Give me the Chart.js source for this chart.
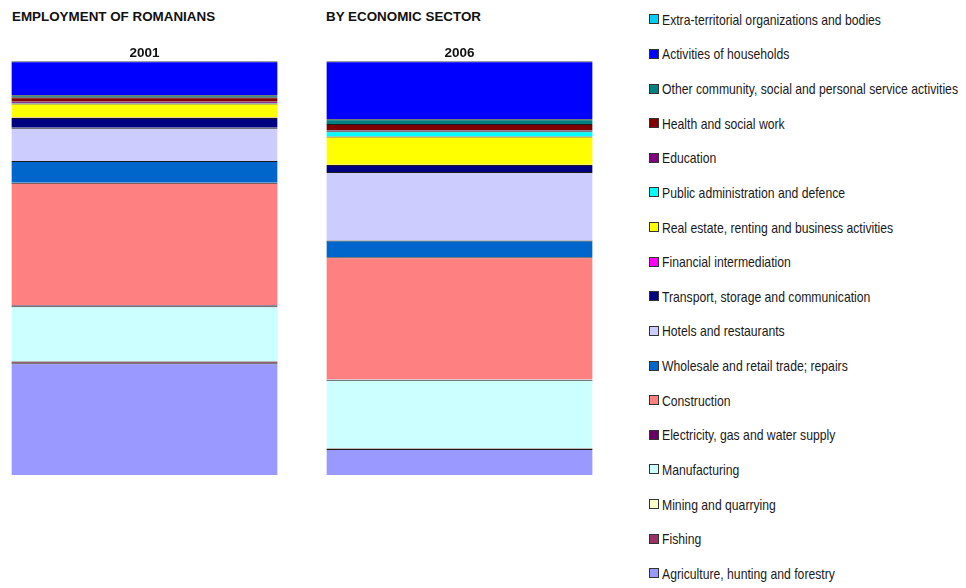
<!DOCTYPE html>
<html>
<head>
<meta charset="utf-8">
<script src="https://cdn.jsdelivr.net/npm/chart.js@4.4.1/dist/chart.umd.min.js"></script>
<style>
  html, body { margin: 0; padding: 0; background: #fff; }
  body { width: 966px; height: 588px; position: relative; overflow: hidden; }
  #wrap { position: absolute; left: -20px; top: 0; width: 650px; height: 588px; }
  .title { position: absolute; top: 9px; font: bold 13.4px "Liberation Sans", Arial, sans-serif; color: #111; }
  #legend { position: absolute; left: 649px; top: 2px; font: 15px "Liberation Sans", Arial, sans-serif; color: #1a1a1a; }
  #legend .row { height: 34.625px; white-space: nowrap; display: flex; align-items: center; }
  #legend .box { width: 10px; height: 10px; box-sizing: border-box; border: 1px solid #333; margin-right: 3px; flex: none; }
  #legend .txt { display: inline-block; transform-origin: 0 50%; }
</style>
</head>
<body>
<div class="title" style="left:12px">EMPLOYMENT OF ROMANIANS</div>
<div class="title" style="left:326px">BY ECONOMIC SECTOR</div>
<div id="wrap"><canvas id="sectorChart"></canvas></div>
<div id="legend"></div>
<script>
// Years (categories)
const years = ['2001', '2006'];

// Sectors, bottom of the stack first
const sectors = [
    'Agriculture, hunting and forestry',
    'Fishing',
    'Mining and quarrying',
    'Manufacturing',
    'Electricity, gas and water supply',
    'Construction',
    'Wholesale and retail trade; repairs',
    'Hotels and restaurants',
    'Transport, storage and communication',
    'Financial intermediation',
    'Real estate, renting and business activities',
    'Public administration and defence',
    'Education',
    'Health and social work',
    'Other community, social and personal service activities',
    'Activities of households',
    'Extra-territorial organizations and bodies'
];

// Share of employment (%), same order as sectors
const share2001 = [27.0, 0.4, 0.1, 13.3, 0.2, 29.6, 5.3, 8.0, 2.4, 0.1, 3.4, 0.1, 0.3, 1.1, 0.5, 8.2, 0.0];
const share2006 = [6.3, 0.1, 0.1, 16.5, 0.1, 29.5, 4.1, 16.5, 1.7, 0.1, 6.8, 1.3, 0.2, 1.5, 1.2, 14.0, 0.0];

const colors = [
    '#9999FF', '#993366', '#FFFFCC', '#CCFFFF', '#660066', '#FF8080',
    '#0066CC', '#CCCCFF', '#000080', '#FF00FF', '#FFFF00', '#00FFFF',
    '#800080', '#800000', '#008080', '#0000FF', '#00CCFF'
];

const datasets = sectors.map((name, i) => ({
    label: name,
    data: [share2001[i], share2006[i]],
    backgroundColor: colors[i],
    borderColor: '#1a1a1a',
    borderWidth: { top: 1, bottom: 0, left: 0, right: 0 },
    borderSkipped: false,
    categoryPercentage: 1,
    barPercentage: 0.845
}));

new Chart(document.getElementById('sectorChart'), {
    type: 'bar',
    data: { labels: years, datasets: datasets },
    options: {
        responsive: true,
        maintainAspectRatio: false,
        animation: false,
        layout: { padding: { left: 7, right: 13, top: 45, bottom: 113 } },
        plugins: {
            legend: { display: false },
            tooltip: { enabled: false }
        },
        scales: {
            x: {
                stacked: true,
                position: 'top',
                grid: { display: false, drawTicks: false, tickLength: 0 },
                border: { display: false },
                ticks: { color: '#111', font: { family: "'Liberation Sans', Arial, sans-serif", size: 13.5, weight: 'bold' }, padding: 0 }
            },
            y: {
                stacked: true,
                display: false,
                min: 0,
                max: 100
            }
        }
    }
});

// Legend, top to bottom = reverse of stack order
const legend = document.getElementById('legend');
const spans = [];
for (let i = sectors.length - 1; i >= 0; i--) {
    const row = document.createElement('div');
    row.className = 'row';
    const box = document.createElement('span');
    box.className = 'box';
    box.style.background = colors[i];
    const txt = document.createElement('span');
    txt.className = 'txt';
    txt.textContent = sectors[i];
    row.appendChild(box);
    row.appendChild(txt);
    legend.appendChild(row);
    spans.push(txt);
}
// narrow face: squeeze the text so the longest label spans ~296px
const widest = Math.max(...spans.map(s => s.getBoundingClientRect().width));
const squeeze = 296 / widest;
spans.forEach(s => { s.style.transform = 'scaleX(' + squeeze + ')'; });
</script>
</body>
</html>
